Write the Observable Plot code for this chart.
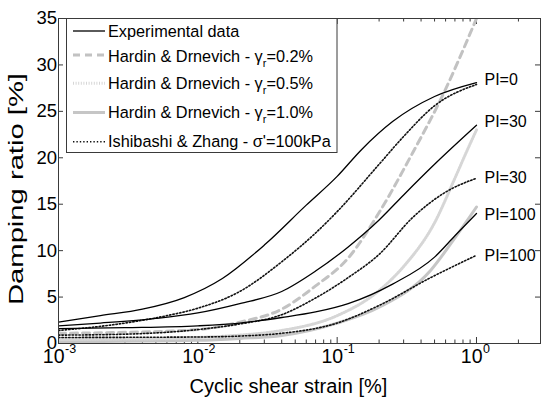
<!DOCTYPE html>
<html><head><meta charset="utf-8">
<script src="https://cdn.jsdelivr.net/npm/d3@7"></script>
<script src="https://cdn.jsdelivr.net/npm/@observablehq/plot@0.6"></script>
<style>
html,body{margin:0;padding:0;background:#fff;}
#chart{position:relative;width:541px;height:398px;overflow:hidden;}
</style></head><body><div id="chart"></div>
<script>
// ---- axis values ----
const xDomain = [0.001, 2.88];
const yDomain = [0, 35];
const xMajorTicks = [0.001, 0.01, 0.1, 1];
const xTickExp = ["-3", "-2", "-1", "0"];
const yTicks = [0, 5, 10, 15, 20, 25, 30, 35];
const xLabel = "Cyclic shear strain [%]";
const yLabel = "Damping ratio [%]";

// ---- series (strain [%], damping ratio [%]) ----
const expPI0Strain = [0.001, 0.002, 0.004, 0.008, 0.015, 0.03, 0.06, 0.1, 0.15, 0.25, 0.5, 1.0];
const expPI0Damp   = [2.3, 3.0, 3.7, 4.95, 7.0, 10.6, 14.9, 18.0, 20.9, 23.9, 26.6, 28.1];
const expPI30Strain = [0.001, 0.002, 0.005, 0.01, 0.02, 0.04, 0.07, 0.12, 0.2, 0.3, 0.5, 1.0];
const expPI30Damp   = [1.9, 2.2, 2.7, 3.3, 4.3, 5.6, 7.8, 10.4, 13.3, 16.0, 19.3, 23.5];
const expPI100Strain = [0.001, 0.003, 0.01, 0.02, 0.04, 0.07, 0.12, 0.25, 0.5, 0.7, 1.0];
const expPI100Damp   = [1.6, 1.7, 1.9, 2.2, 2.8, 3.4, 4.3, 6.4, 9.3, 11.6, 14.0];

const ishPI0Strain = [0.001, 0.003, 0.006, 0.01, 0.02, 0.04, 0.07, 0.1, 0.2, 0.3, 0.5, 1.0];
const ishPI0Damp   = [1.4, 2.2, 3.0, 3.8, 5.6, 8.8, 11.9, 14.2, 19.3, 22.3, 25.6, 27.9];
const ishPI30Strain = [0.001, 0.003, 0.01, 0.02, 0.04, 0.07, 0.12, 0.2, 0.35, 0.6, 1.0];
const ishPI30Damp   = [0.9, 1.0, 1.5, 2.1, 3.1, 4.9, 7.1, 9.6, 13.6, 16.3, 17.8];
const ishPI100Strain = [0.001, 0.01, 0.02, 0.04, 0.1, 0.2, 0.47, 1.0];
const ishPI100Damp   = [0.65, 0.7, 0.8, 1.1, 2.2, 4.1, 7.1, 9.5];

const hd02Strain = [0.001, 0.003, 0.01, 0.02, 0.04, 0.07, 0.12, 0.2, 0.35, 0.55, 1.0];
const hd02Damp   = [1.1, 1.2, 1.5, 2.3, 3.7, 6.2, 9.2, 14.1, 20.6, 26.2, 35.0];
const hd05Strain = [0.001, 0.005, 0.01, 0.02, 0.04, 0.1, 0.2, 0.3, 0.5, 0.7, 0.86, 1.0];
const hd05Damp   = [0.45, 0.5, 0.65, 0.9, 1.4, 3.0, 5.7, 8.3, 13.0, 17.8, 20.85, 23.0];
const hd10Strain = [0.001, 0.01, 0.02, 0.04, 0.1, 0.2, 0.47, 0.68, 1.0];
const hd10Damp   = [0.2, 0.35, 0.55, 0.86, 2.2, 3.9, 7.9, 11.1, 14.7];

// ---- curve end labels ----
const labelText = ["PI=0", "PI=30", "PI=30", "PI=100", "PI=100"];
const labelStrain = [1, 1, 1, 1, 1];
const labelDamp = [28.4, 23.9, 17.8, 13.9, 9.4];

// ---- legend ----
const legendLabels = [
  ["Experimental data"],
  ["Hardin & Drnevich - \u03b3", "r", "=0.2%"],
  ["Hardin & Drnevich - \u03b3", "r", "=0.5%"],
  ["Hardin & Drnevich - \u03b3", "r", "=1.0%"],
  ["Ishibashi & Zhang - \u03c3'=100kPa"]
];

const zip = (xs, ys) => xs.map((x, i) => ({x, y: ys[i]}));

const W = 541, H = 398, ML = 58, MR = 1, MT = 18, MB = 55;
const FW = W - ML - MR, FH = H - MT - MB;
const font = "'Liberation Sans', Arial, Helvetica, sans-serif";
const axisColor = "#3a3a3a";

const xMinorTicks = [];
for (let e = -3; e <= 0; e++) for (let k = 2; k <= 9; k++) {
  const v = k * Math.pow(10, e);
  if (v < xDomain[1]) xMinorTicks.push(v);
}

const lineOpts = {x: "x", y: "y", curve: "monotone-x", clip: true};

const plot = Plot.plot({
  width: W, height: H,
  marginLeft: ML, marginRight: MR, marginTop: MT, marginBottom: MB,
  style: {fontFamily: font, background: "#fff", color: "#000", overflow: "visible"},
  x: {type: "log", domain: xDomain, axis: null},
  y: {domain: yDomain, axis: null},
  marks: [
    Plot.ruleX(xMinorTicks, {insetTop: FH - 3.5, stroke: axisColor}),
    Plot.ruleX(xMinorTicks, {insetBottom: FH - 3.5, stroke: axisColor}),
    Plot.ruleX(xMajorTicks, {insetTop: FH - 6, stroke: axisColor}),
    Plot.ruleX(xMajorTicks, {insetBottom: FH - 6, stroke: axisColor}),
    Plot.ruleY(yTicks, {insetRight: FW - 5, stroke: axisColor}),
    Plot.ruleY(yTicks, {insetLeft: FW - 5, stroke: axisColor}),
    // Hardin & Drnevich
    Plot.line(zip(hd10Strain, hd10Damp), {...lineOpts, stroke: "#c6c6c6", strokeWidth: 3}),
    Plot.line(zip(hd05Strain, hd05Damp), {...lineOpts, stroke: "#d6d6d6", strokeWidth: 3, strokeDasharray: "1,1.6"}),
    Plot.line(zip(hd02Strain, hd02Damp), {...lineOpts, stroke: "#c2c2c2", strokeWidth: 3, strokeDasharray: "7,5"}),
    // Ishibashi & Zhang
    Plot.line(zip(ishPI0Strain, ishPI0Damp), {...lineOpts, stroke: "#111", strokeWidth: 1.6, strokeDasharray: "1.4,2"}),
    Plot.line(zip(ishPI30Strain, ishPI30Damp), {...lineOpts, stroke: "#111", strokeWidth: 1.6, strokeDasharray: "1.4,2"}),
    Plot.line(zip(ishPI100Strain, ishPI100Damp), {...lineOpts, stroke: "#111", strokeWidth: 1.6, strokeDasharray: "1.4,2"}),
    // Experimental
    Plot.line(zip(expPI0Strain, expPI0Damp), {...lineOpts, stroke: "#000", strokeWidth: 1.3}),
    Plot.line(zip(expPI30Strain, expPI30Damp), {...lineOpts, stroke: "#000", strokeWidth: 1.3}),
    Plot.line(zip(expPI100Strain, expPI100Damp), {...lineOpts, stroke: "#000", strokeWidth: 1.3}),
    Plot.frame({stroke: axisColor, strokeWidth: 1}),
    // curve labels
    Plot.text(labelText, {x: (d, i) => labelStrain[i], y: (d, i) => labelDamp[i], text: d => d,
      textAnchor: "start", dx: 8, fontSize: 16, fill: "#000"}),
    // tick labels
    Plot.text(yTicks, {y: d => d, frameAnchor: "left", text: d => String(d), textAnchor: "end",
      dx: -1.5, fontSize: 18.5, fill: "#000"}),
    Plot.text(xMajorTicks, {x: d => d, frameAnchor: "bottom", text: () => "10", textAnchor: "end",
      lineAnchor: "bottom", dx: 6, dy: 19, fontSize: 19.5, fill: "#000"}),
    Plot.text(xMajorTicks, {x: d => d, frameAnchor: "bottom", text: (d, i) => xTickExp[i], textAnchor: "start",
      lineAnchor: "bottom", dx: 6.5, dy: 9.5, fontSize: 12.5, fill: "#000"}),
    // axis titles
    Plot.text([xLabel], {frameAnchor: "bottom", text: d => d, textAnchor: "middle", lineAnchor: "bottom",
      dx: -11, dy: 49, fontSize: 20, fill: "#000"}),
    Plot.text([yLabel], {frameAnchor: "left", text: d => d, textAnchor: "middle", lineAnchor: "middle", rotate: -90,
      dx: -42, dy: 8, fontSize: 20, fill: "#000"})
  ]
});

const svg = d3.select(plot);
// the reference's y title is drawn elongated along its axis
svg.selectAll("text").filter(function() { return this.textContent === yLabel; })
  .attr("textLength", 232).attr("lengthAdjust", "spacingAndGlyphs");

// legend drawn inside the axes (upper-left), like the original
const lg = svg.append("g").attr("font-family", font).attr("font-size", 16.3).attr("text-anchor", "start");
lg.append("rect").attr("x", 66.5).attr("y", 18.5).attr("width", 270.5).attr("height", 134)
  .attr("fill", "#fff").attr("stroke", axisColor).attr("stroke-width", 1);
const sampleY = [31, 55, 83.3, 112.5, 141.7];
const textY = [37.3, 61.7, 89.3, 118.3, 146.7];
const sampleStyle = [
  {stroke: "#000", w: 1.3, dash: null},
  {stroke: "#c2c2c2", w: 3, dash: "7,5"},
  {stroke: "#d6d6d6", w: 3, dash: "1,1.6"},
  {stroke: "#c6c6c6", w: 3, dash: null},
  {stroke: "#111", w: 1.6, dash: "1.4,2"}
];
legendLabels.forEach((parts, i) => {
  const s = sampleStyle[i];
  const ln = lg.append("line").attr("x1", 73).attr("x2", 105).attr("y1", sampleY[i]).attr("y2", sampleY[i])
    .attr("stroke", s.stroke).attr("stroke-width", s.w);
  if (s.dash) ln.attr("stroke-dasharray", s.dash);
  const t = lg.append("text").attr("x", 108).attr("y", textY[i]).attr("fill", "#000").attr("text-anchor", "start");
  t.append("tspan").text(parts[0]);
  if (parts.length > 1) {
    t.append("tspan").attr("dy", 5).attr("font-size", 11).text(parts[1]);
    t.append("tspan").attr("dy", -5).text(parts[2]);
  }
});

document.getElementById("chart").appendChild(plot);
</script>
</body></html>
